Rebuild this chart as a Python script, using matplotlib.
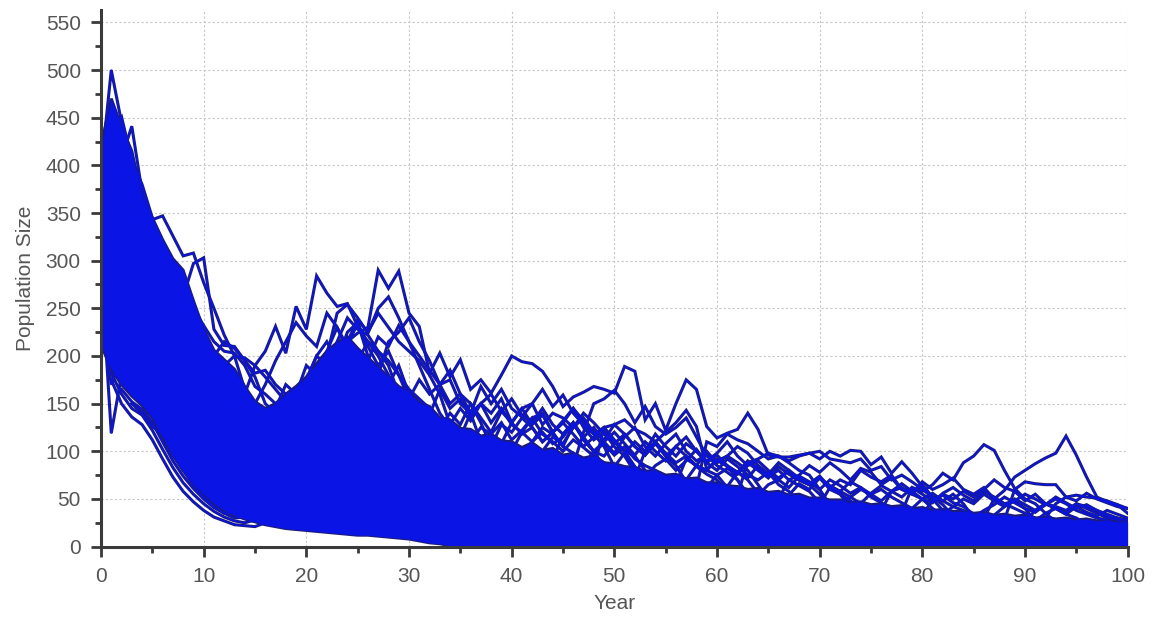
import numpy as np
import matplotlib.pyplot as plt
from matplotlib.ticker import MultipleLocator

plt.rcParams['font.family'] = ['Liberation Sans', 'DejaVu Sans']

years = np.arange(0, 101)

# top and bottom of the region where the runs overlap into one solid mass
band_top = [420, 470, 440, 415, 365, 345, 322, 302, 290, 258,
            228, 206, 196, 186, 168, 152, 145, 150, 160, 168,
            178, 192, 205, 214, 220, 208, 198, 188, 178, 168,
            162, 151, 147, 135, 133, 124, 123, 116, 118, 111,
            110, 104, 109, 101, 103, 96, 98, 93, 95, 88,
            87, 84, 83, 79, 80, 75, 76, 71, 72, 67,
            67, 64, 63, 60, 61, 57, 58, 54, 55, 51,
            51, 49, 49, 46, 47, 44, 45, 42, 43, 40,
            41, 38, 39, 37, 37, 35, 36, 33, 34, 32,
            33, 30, 31, 29, 30, 28, 29, 27, 28, 26,
            26]
# years 0-35, after that the mass sits on zero
band_bottom = [212, 186, 170, 158, 148, 135, 115, 96, 80, 66,
               55, 45, 38, 33, 29, 26, 23, 21, 19, 18,
               17, 16, 15, 14, 13, 12, 12, 11, 10, 9,
               8, 6, 4, 3, 1, 0]

# runs that stand out from the mass: (first year, population each year)
runs = [
    (0, [395, 500, 445, 410, 372, 330]),
    (0, [370, 440, 451, 405, 380, 345, 310]),
    (1, [410, 408, 441, 372, 343, 347, 326, 305, 308, 277, 250, 222, 200, 165]),
    (6, [300, 268, 262, 297, 303, 228, 211, 210, 195, 178, 150, 140]),
    (9, [250, 232, 215, 205, 203, 190, 168, 160, 150, 155]),
    (11, [200, 215, 208, 195, 182, 185, 170, 160, 150]),
    (12, [190, 200, 198, 190, 178, 165, 152]),
    (14, [160, 190, 205, 231, 203, 252, 228, 284, 266, 252, 255, 231, 215, 205, 190, 160]),
    (15, [150, 170, 195, 215, 235, 221, 210, 245, 230, 205, 195, 215, 200, 180, 160]),
    (17, [145, 170, 160, 190, 180, 205, 230, 210, 235, 200, 180, 170, 190, 160, 150, 140, 130]),
    (19, [160, 175, 200, 215, 195, 225, 235, 210, 190, 205, 180, 165, 155, 145, 125]),
    (20, [175, 200, 190, 215, 240, 228, 222, 205, 195, 180, 155]),
    (22, [200, 245, 254, 240, 224, 250, 262, 240, 215, 190, 165, 140, 125]),
    (22, [190, 205, 215, 224, 230, 290, 271, 289, 245, 231, 182, 203, 178, 196, 165,
          175, 161, 180, 200, 194, 192, 184, 168, 147, 157, 162, 168, 165, 161, 189,
          184, 133, 150, 122, 150, 175, 165, 126, 114, 119, 123, 140, 123, 96, 94,
          94, 96, 98, 92, 100, 95, 101, 100, 86, 94, 77, 89, 77, 63, 50, 38, 30]),
    (24, [215, 238, 225, 245, 230, 215, 205, 195, 180, 160, 128]),
    (26, [195, 220, 210, 232, 215, 200, 185, 170, 175, 150, 140, 110]),
    (27, [180, 215, 225, 240, 215, 195, 170, 185, 160, 150, 130, 105]),
    (30, [155, 175, 160, 170, 150, 160, 140, 168, 150, 165, 145, 136, 150, 165, 147,
          159, 140, 128, 118, 105, 84, 75]),
    (32, [138, 165, 145, 155, 136, 150, 140, 155, 130, 145, 150, 128, 140, 135, 125,
          140, 130, 118, 110, 100, 84, 70]),
    (33, [125, 140, 128, 150, 135, 120, 142, 130, 118, 125, 110, 120, 105, 98, 85]),
    (34, [128, 145, 132, 150, 160, 142, 155, 138, 130, 145, 128, 118, 130, 112, 100, 84]),
    (35, [115, 140, 150, 130, 145, 128, 120, 135, 140, 120, 130, 145, 132, 118, 125,
          110, 100, 80, 70]),
    (36, [110, 125, 118, 130, 112, 122, 135, 118, 110, 100, 112, 104, 95, 88, 78]),
    (38, [105, 128, 120, 135, 125, 110, 120, 130, 118, 105, 115, 125, 112, 100, 95, 80, 68]),
    (39, [108, 130, 145, 128, 138, 120, 132, 145, 125, 112, 120, 105, 95, 78]),
    (40, [100, 120, 110, 125, 118, 105, 128, 115, 100, 110, 120, 108, 96, 110, 100,
          90, 105, 95, 85, 80, 75, 62, 55]),
    (41, [98, 110, 120, 108, 115, 130, 112, 100, 108, 96, 105, 92, 85, 80, 70]),
    (43, [100, 115, 108, 125, 135, 120, 112, 128, 118, 105, 96, 108, 95, 85, 68]),
    (44, [90, 118, 130, 115, 125, 110, 98, 115, 125, 105, 95, 108, 118, 100, 90, 96,
          85, 78, 70, 55]),
    (46, [85, 120, 150, 155, 164, 150, 130, 147, 126, 118, 125, 135, 115, 95, 90, 85, 70, 52]),
    (47, [86, 100, 95, 108, 118, 105, 96, 110, 98, 88, 95, 84, 76, 70, 58]),
    (48, [82, 125, 128, 133, 123, 118, 110, 120, 130, 143, 126, 81, 90, 95, 88, 80, 65, 50]),
    (50, [84, 98, 110, 100, 118, 105, 95, 108, 100, 88, 96, 85, 78, 70, 56]),
    (52, [72, 100, 110, 95, 105, 115, 100, 90, 98, 110, 95, 85, 90, 80, 72, 80, 70, 65, 55, 42]),
    (53, [73, 85, 92, 80, 90, 102, 88, 80, 92, 84, 75, 70, 78, 65, 58, 47]),
    (56, [66, 92, 85, 100, 88, 95, 105, 98, 85, 76, 88, 80, 70, 65, 72, 60, 55, 40]),
    (57, [70, 85, 80, 92, 84, 78, 90, 82, 74, 80, 70, 64, 58, 46]),
    (58, [62, 110, 105, 118, 112, 108, 100, 92, 95, 88, 80, 75, 60, 44]),
    (59, [62, 75, 82, 76, 88, 80, 72, 84, 76, 70, 65, 72, 62, 55, 48, 40]),
    (61, [63, 78, 72, 85, 76, 70, 80, 72, 66, 74, 62, 58, 52, 45]),
    (62, [55, 88, 92, 98, 95, 90, 95, 98, 100, 92, 90, 88, 92, 80, 84, 70, 75, 68, 60,
          52, 44, 32]),
    (64, [54, 65, 70, 62, 74, 68, 60, 70, 64, 56, 62, 52, 46, 40, 36]),
    (66, [50, 70, 75, 85, 78, 88, 80, 70, 82, 78, 65, 72, 60, 55, 50, 40, 33]),
    (67, [54, 66, 60, 72, 64, 58, 68, 62, 55, 60, 52, 46, 40]),
    (70, [44, 62, 70, 65, 80, 73, 68, 75, 60, 58, 65, 52, 48, 55, 45, 30]),
    (72, [44, 52, 60, 55, 48, 58, 66, 58, 50, 56, 48, 42, 38, 30]),
    (74, [45, 56, 64, 58, 52, 62, 55, 48, 54, 46, 42, 34]),
    (76, [38, 58, 62, 55, 68, 60, 65, 72, 60, 55, 62, 50, 45, 48, 40, 27]),
    (78, [36, 62, 58, 65, 77, 70, 88, 95, 107, 101, 80, 61, 50, 45, 35, 26]),
    (79, [40, 50, 46, 56, 62, 54, 48, 58, 52, 45, 40, 35, 30]),
    (80, [34, 48, 55, 50, 58, 52, 60, 70, 62, 58, 48, 55, 45, 42, 38, 45, 40, 35, 30, 28, 21]),
    (82, [34, 42, 50, 45, 55, 48, 42, 50, 44, 38, 45, 40, 34, 30, 24]),
    (85, [31, 38, 44, 52, 46, 40, 36, 44, 50, 45, 38, 34, 30, 28, 22, 20]),
    (86, [30, 50, 59, 73, 80, 87, 93, 98, 116, 96, 73, 52, 47, 44, 40]),
    (87, [33, 42, 48, 55, 50, 44, 52, 46, 40, 44, 38, 34, 30, 26]),
    (88, [28, 60, 68, 66, 65, 65, 52, 54, 52, 51, 48, 44, 35]),
    (90, [26, 38, 45, 40, 35, 45, 42, 38, 32, 30, 28]),
    (91, [27, 35, 40, 34, 42, 36, 32, 38, 34, 30]),
    (92, [30, 45, 52, 48, 56, 50, 46, 42, 40]),
    # low early runs
    (0, [290, 119, 180, 160, 150]),
    (0, [250, 170, 200, 172, 155, 138]),
    (1, [175, 150, 136, 128, 112, 92, 73, 58, 47, 38, 31, 27, 23, 22, 21, 25]),
    (1, [182, 160, 145, 138, 122, 102, 83, 67, 55, 45, 37, 31, 27, 25, 28]),
    (2, [165, 152, 144, 130, 110, 90, 74, 61, 50, 41, 35, 30, 31]),
    (3, [150, 140, 126, 118, 96, 80, 65, 52, 42, 35, 36]),
]

navy = '#1c1c78'
blue = '#0a14e4'
axis_color = '#3a3a3a'
text_color = '#555555'


def main():
    fig, ax = plt.subplots(figsize=(11.53, 6.24), dpi=100)
    fig.subplots_adjust(left=0.0876, right=0.978, bottom=0.124, top=0.984)

    lo = np.zeros(len(years))
    lo[:len(band_bottom)] = band_bottom
    hi = np.array(band_top, dtype=float)
    n_lo = len(band_bottom)

    # dark outline first, bright blue on top of it
    ax.plot(years, hi, color=navy, lw=2.2, zorder=2, solid_joinstyle='miter')
    ax.plot(years[:n_lo], band_bottom, color=navy, lw=2.2, zorder=2, solid_joinstyle='miter')
    for start, vals in runs:
        ax.plot(years[start:start + len(vals)], vals, color=navy, lw=2.2,
                zorder=2, solid_joinstyle='miter')

    ax.fill_between(years, lo, hi, color=blue, lw=0, zorder=3)
    for start, vals in runs:
        ax.plot(years[start:start + len(vals)], vals, color=blue, lw=0.95, zorder=4)

    ax.set_xlim(0, 100)
    ax.set_ylim(0, 563)
    ax.xaxis.set_major_locator(MultipleLocator(10))
    ax.xaxis.set_minor_locator(MultipleLocator(5))
    ax.set_yticks(np.arange(0, 551, 50))
    ax.yaxis.set_minor_locator(MultipleLocator(25))

    ax.set_axisbelow(True)
    ax.grid(True, which='major', color='#c6c6c6', lw=0.8, ls=(0, (2, 2)))
    for side in ['top', 'right']:
        ax.spines[side].set_visible(False)
    for side in ['left', 'bottom']:
        ax.spines[side].set_color(axis_color)
        ax.spines[side].set_linewidth(2.2)
        ax.spines[side].set_zorder(5)

    ax.tick_params(which='major', length=7, width=2, color=axis_color,
                   labelcolor=text_color, labelsize=15, pad=7.5)
    ax.tick_params(which='minor', length=4.5, width=2, color=axis_color)

    ax.set_xlabel('Year', fontsize=15, color=text_color, labelpad=6)
    ax.set_ylabel('Population Size', fontsize=15, color=text_color, labelpad=8)

    fig.savefig('out.png', dpi=100)


if __name__ == "__main__":
    main()
